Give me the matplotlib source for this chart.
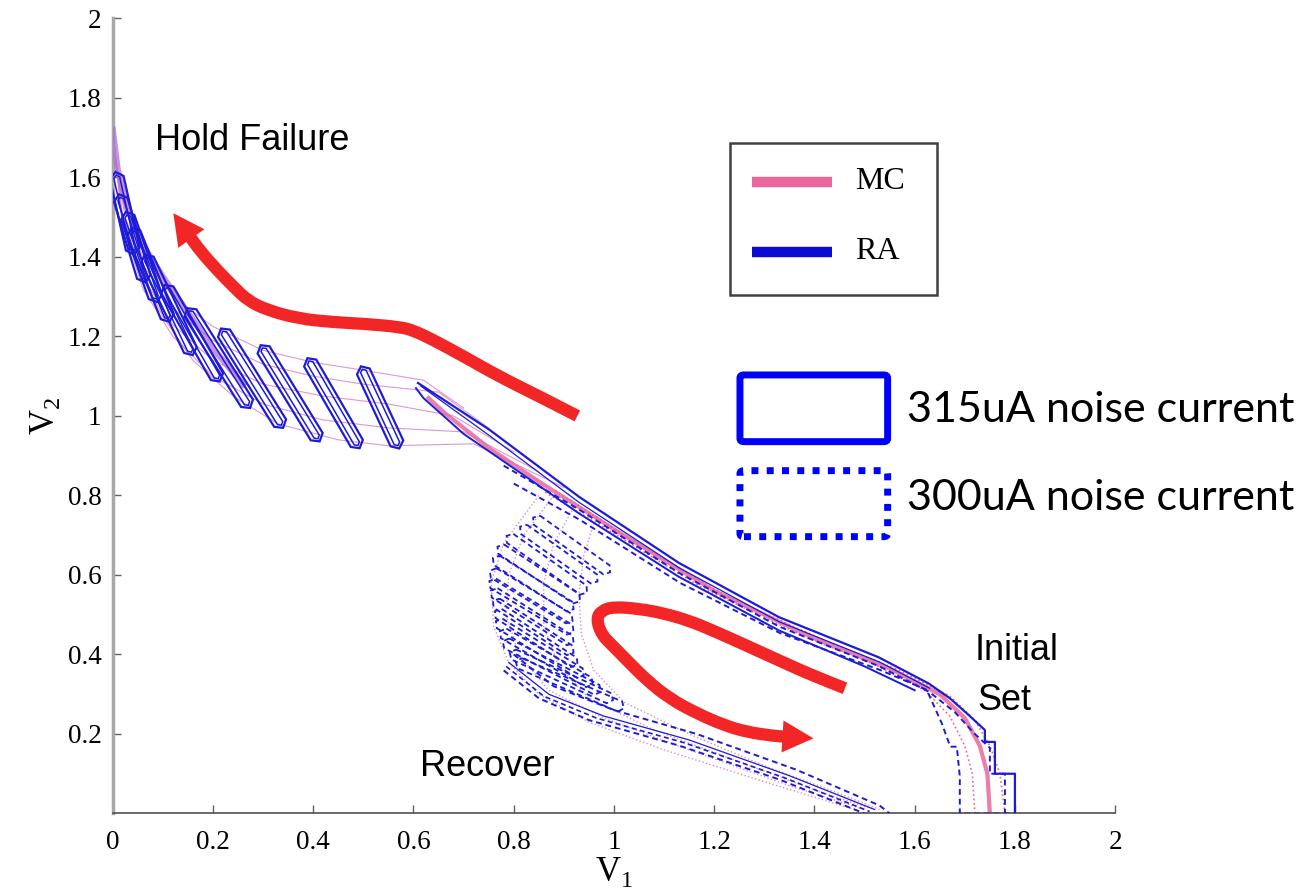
import numpy as np
import matplotlib
matplotlib.use('Agg')
import matplotlib.pyplot as plt
from matplotlib.patches import Polygon, Rectangle, FancyBboxPatch, PathPatch
from matplotlib.path import Path
from matplotlib.lines import Line2D

plt.rcParams['mathtext.fontset'] = 'custom'
plt.rcParams['mathtext.rm'] = 'Liberation Serif'

# ---------------- values ----------------
# x / y ticks
xticks = [0, 0.2, 0.4, 0.6, 0.8, 1, 1.2, 1.4, 1.6, 1.8, 2]
xticklabels = ['0', '0.2', '0.4', '0.6', '0.8', '1', '1.2', '1.4', '1.6', '1.8', '2']
yticks = [0.2, 0.4, 0.6, 0.8, 1, 1.2, 1.4, 1.6, 1.8, 2]
yticklabels = ['0.2', '0.4', '0.6', '0.8', '1', '1.2', '1.4', '1.6', '1.8', '2']

# MC : main trajectory (initial set -> knee)
mc_main_x = [1.75, 1.745, 1.73, 1.70, 1.65, 1.55, 1.40, 1.20, 1.00, 0.85, 0.75, 0.66, 0.63]
mc_main_y = [0.00, 0.10, 0.17, 0.24, 0.30, 0.365, 0.44, 0.56, 0.715, 0.835, 0.92, 1.01, 1.045]
mc_main2_x = [1.78, 1.77, 1.75, 1.72, 1.67, 1.57, 1.42, 1.22, 1.02, 0.88]
mc_main2_y = [0.00, 0.10, 0.17, 0.235, 0.295, 0.36, 0.435, 0.55, 0.70, 0.815]
mc_main3_x = [1.72, 1.715, 1.70, 1.67, 1.62, 1.52, 1.38, 1.18, 0.98, 0.86]
mc_main3_y = [0.00, 0.10, 0.17, 0.245, 0.31, 0.375, 0.445, 0.565, 0.72, 0.81]
# MC : hold failure end (upper left)
mc_hf_x = [0.0, 0.01, 0.03, 0.06, 0.10, 0.15, 0.20, 0.26]
mc_hf_y = [1.72, 1.62, 1.52, 1.43, 1.35, 1.26, 1.17, 1.08]
# MC : hold failure fan (315uA)
hf_fan = [
    ([0.70, 0.62, 0.50, 0.40, 0.30, 0.20, 0.12, 0.06, 0.025, 0.005, 0.0],
     [1.02, 1.09, 1.115, 1.135, 1.165, 1.225, 1.30, 1.40, 1.52, 1.65, 1.72]),
    ([0.75, 0.65, 0.50, 0.40, 0.30, 0.20, 0.12, 0.06, 0.025, 0.005, 0.0],
     [0.97, 1.06, 1.08, 1.10, 1.13, 1.19, 1.27, 1.38, 1.50, 1.64, 1.72]),
    ([0.80, 0.68, 0.55, 0.42, 0.30, 0.20, 0.12, 0.06, 0.02, 0.0],
     [0.91, 1.00, 1.03, 1.05, 1.08, 1.14, 1.23, 1.35, 1.50, 1.72]),
    ([0.85, 0.70, 0.55, 0.42, 0.30, 0.20, 0.12, 0.06, 0.02, 0.0],
     [0.86, 0.96, 0.97, 0.99, 1.03, 1.10, 1.20, 1.32, 1.48, 1.72]),
    ([0.90, 0.72, 0.55, 0.45, 0.33, 0.24, 0.16, 0.10, 0.05, 0.015, 0.0],
     [0.82, 0.93, 0.925, 0.94, 0.98, 1.05, 1.14, 1.25, 1.38, 1.53, 1.72]),
]
# MC : recover fan (300uA)
rc_fan = [
    ([0.96, 0.94, 0.93, 0.935, 0.96, 1.02, 1.15, 1.30, 1.45, 1.53],
     [0.73, 0.65, 0.55, 0.45, 0.36, 0.28, 0.20, 0.12, 0.05, 0.01]),
    ([0.92, 0.88, 0.86, 0.86, 0.89, 0.95, 1.08, 1.25, 1.42, 1.52],
     [0.77, 0.68, 0.58, 0.47, 0.37, 0.29, 0.21, 0.13, 0.05, 0.01]),
    ([0.88, 0.82, 0.79, 0.785, 0.81, 0.87, 0.98, 1.15, 1.35, 1.50],
     [0.80, 0.70, 0.60, 0.50, 0.40, 0.31, 0.24, 0.16, 0.07, 0.01]),
    ([0.85, 0.78, 0.755, 0.76, 0.79, 0.85, 0.95, 1.10, 1.30, 1.48],
     [0.80, 0.68, 0.58, 0.47, 0.38, 0.30, 0.23, 0.16, 0.08, 0.01]),
]

# RA 315uA : reach boxes on the way to hold failure (upper-left end, lower-right end)
hf_box_start = [(0.008, 1.60), (0.016, 1.544), (0.030, 1.50), (0.042, 1.46), (0.069, 1.393),
                (0.109, 1.317), (0.155, 1.259), (0.222, 1.208), (0.301, 1.166),
                (0.394, 1.133), (0.500, 1.112)]
hf_box_end = [(0.040, 1.42), (0.062, 1.35), (0.085, 1.30), (0.109, 1.25), (0.155, 1.166),
              (0.208, 1.099), (0.268, 1.032), (0.334, 0.982), (0.407, 0.948),
              (0.487, 0.931), (0.567, 0.931)]
# RA 315uA : main band edges
ra_up_x = [0.609, 0.752, 0.878, 0.931, 1.13, 1.329, 1.528, 1.628, 1.67, 1.71, 1.74, 1.74, 1.76, 1.76, 1.80, 1.80]
ra_up_y = [1.083, 0.965, 0.846, 0.796, 0.63, 0.494, 0.393, 0.327, 0.29, 0.245, 0.21, 0.18, 0.18, 0.10, 0.10, 0.0]
ra_mid_x = [0.615, 0.75, 0.93, 1.13, 1.33, 1.53, 1.63]
ra_mid_y = [1.075, 0.952, 0.783, 0.618, 0.482, 0.381, 0.315]
ra_lo_x = [0.605, 0.62, 0.70, 0.826, 0.93, 1.13, 1.33, 1.50, 1.60]
ra_lo_y = [1.07, 1.045, 0.955, 0.846, 0.755, 0.595, 0.46, 0.37, 0.31]
# RA 300uA : main band edges
da_up_x = [0.78, 0.93, 1.13, 1.33, 1.53, 1.63, 1.68, 1.72, 1.75, 1.75, 1.78, 1.78]
da_up_y = [0.875, 0.765, 0.605, 0.47, 0.37, 0.305, 0.255, 0.20, 0.165, 0.10, 0.10, 0.0]
da_lo_x = [0.80, 0.933, 1.132, 1.331, 1.531, 1.624, 1.654, 1.671, 1.684, 1.69, 1.69, 1.80, 1.80]
da_lo_y = [0.83, 0.738, 0.58, 0.454, 0.361, 0.311, 0.227, 0.168, 0.168, 0.093, 0.0, 0.0, 0.10]
# RA 300uA : reach boxes of the recover loop
rc_box_start = [(0.846, 0.738), (0.82, 0.715), (0.793, 0.692), (0.775, 0.665), (0.766, 0.637),
                (0.76, 0.605), (0.759, 0.579), (0.762, 0.555), (0.766, 0.529), (0.77, 0.503),
                (0.772, 0.478), (0.78, 0.453), (0.786, 0.428), (0.80, 0.40), (0.812, 0.378)]
rc_box_end = [(0.985, 0.613), (0.96, 0.59), (0.939, 0.562), (0.925, 0.54), (0.912, 0.52),
              (0.91, 0.49), (0.912, 0.462), (0.912, 0.435), (0.912, 0.41), (0.92, 0.38),
              (0.932, 0.353), (0.95, 0.33), (0.966, 0.311), (0.99, 0.29), (1.012, 0.269)]
# RA 300uA : recover band down to the axis
rb_up_x = [0.80, 0.88, 1.00, 1.165, 1.364, 1.53, 1.55]
rb_up_y = [0.40, 0.32, 0.26, 0.20, 0.11, 0.02, 0.0]
rb_mid_x = [0.79, 0.87, 0.98, 1.15, 1.35, 1.52]
rb_mid_y = [0.38, 0.30, 0.245, 0.185, 0.095, 0.01]
rb_mid2_x = [0.785, 0.86, 0.965, 1.14, 1.34, 1.51]
rb_mid2_y = [0.37, 0.295, 0.24, 0.178, 0.09, 0.005]
rb_lo_x = [0.78, 0.85, 0.95, 1.132, 1.331, 1.50]
rb_lo_y = [0.36, 0.29, 0.235, 0.17, 0.085, 0.0]

# red direction arrows
arrow_hf_x = [0.927, 0.85, 0.773, 0.70, 0.64, 0.60, 0.573, 0.50, 0.44, 0.37, 0.307, 0.27, 0.241, 0.21, 0.174, 0.121]
arrow_hf_y = [1.0, 1.05, 1.098, 1.15, 1.191, 1.215, 1.224, 1.232, 1.236, 1.245, 1.267, 1.29, 1.325, 1.365, 1.416, 1.51]
arrow_rc_x = [1.461, 1.40, 1.331, 1.26, 1.198, 1.15, 1.098, 1.05, 0.999, 0.975, 0.965, 0.975, 0.999,
              1.03, 1.065, 1.11, 1.165, 1.22, 1.265, 1.32, 1.398]
arrow_rc_y = [0.315, 0.345, 0.384, 0.425, 0.46, 0.485, 0.504, 0.515, 0.52, 0.51, 0.49, 0.45, 0.42,
              0.38, 0.336, 0.29, 0.252, 0.222, 0.205, 0.195, 0.189]

BLUE = '#1c1cd8'
PINK = '#e8679c'
FAN = '#d77fc4'
RED = '#f22626'

fig = plt.figure(figsize=(13.06, 8.91), dpi=100)
ax = fig.add_axes([0.0863, 0.0870, 0.7676, 0.8923])
ax.set_xlim(0, 2)
ax.set_ylim(0, 2)


def to_px(x, y):
    return ax.transData.transform(np.column_stack([x, y]))


def to_data(pts):
    return ax.transData.inverted().transform(np.asarray(pts))


def reach_box(p0, p1, w, **kw):
    a, b = to_px([p0[0], p1[0]], [p0[1], p1[1]])
    u = (b - a) / np.hypot(*(b - a))
    n = np.array([-u[1], u[0]])
    pts = [a + n * w, b + n * w, b + u * w * 0.8, b - n * w, a - n * w, a - u * w * 0.8]
    ax.add_patch(Polygon(to_data(pts), closed=True, fill=False, **kw))


def red_arrow(xs, ys, lw=8.8, head_len=31, head_w=16):
    pts = to_px(xs, ys)
    tip, prev = pts[-1], pts[-2]
    u = (tip - prev) / np.hypot(*(tip - prev))
    n = np.array([-u[1], u[0]])
    base = tip - u * head_len
    ctrl = to_data(np.vstack([pts[:-1], base + u * 2]))
    # smooth quadratic curve through the read points
    verts = [ctrl[0]]
    codes = [Path.MOVETO]
    for i in range(1, len(ctrl) - 1):
        verts += [ctrl[i], (ctrl[i] + ctrl[i + 1]) / 2]
        codes += [Path.CURVE3, Path.CURVE3]
    verts.append(ctrl[-1])
    codes.append(Path.LINETO)
    ax.add_patch(PathPatch(Path(verts, codes), fill=False, edgecolor=RED, lw=lw,
                           capstyle='butt', joinstyle='round', zorder=6))
    ax.add_patch(Polygon(to_data([tip, base + n * head_w, base - n * head_w]),
                         closed=True, color=RED, lw=0, zorder=6))


# MC trajectories
for xs, ys in hf_fan:
    ax.plot(xs, ys, color=FAN, lw=0.8, alpha=0.8, zorder=2)
for xs, ys in rc_fan:
    ax.plot(xs, ys, color=FAN, lw=1.0, ls=':', alpha=0.9, zorder=2)
ax.plot(mc_main2_x, mc_main2_y, color=PINK, lw=1.2, ls=':', zorder=2)
ax.plot(mc_main3_x, mc_main3_y, color=PINK, lw=1.2, ls=':', zorder=2)
ax.plot(mc_main_x, mc_main_y, color=PINK, lw=3.0, alpha=0.85, zorder=2)
ax.plot(mc_hf_x, mc_hf_y, color='#b070d8', lw=4.5, alpha=0.75, zorder=3)

# RA 315uA (solid)
for p0, p1 in zip(hf_box_start, hf_box_end):
    reach_box(p0, p1, 7.0, edgecolor=BLUE, lw=1.6, zorder=4)
    reach_box(p0, p1, 3.0, edgecolor=BLUE, lw=1.1, zorder=4)
ax.plot(ra_up_x, ra_up_y, color=BLUE, lw=1.6, zorder=4)
ax.plot(ra_mid_x, ra_mid_y, color=BLUE, lw=0.9, zorder=4)
ax.plot(ra_lo_x, ra_lo_y, color=BLUE, lw=1.4, zorder=4)

# RA 300uA (dashed)
dash = (0, (3, 2))
ax.plot(da_up_x, da_up_y, color=BLUE, lw=1.4, ls=dash, zorder=4)
ax.plot(da_lo_x, da_lo_y, color=BLUE, lw=1.4, ls=dash, zorder=4)
for p0, p1 in zip(rc_box_start, rc_box_end):
    reach_box(p0, p1, 5.5, edgecolor=BLUE, lw=1.3, ls=dash, zorder=4)
ax.plot(rb_up_x, rb_up_y, color=BLUE, lw=1.4, ls=dash, zorder=4)
ax.plot(rb_mid_x, rb_mid_y, color=BLUE, lw=0.9, zorder=4)
ax.plot(rb_mid2_x, rb_mid2_y, color=BLUE, lw=1.2, ls=dash, zorder=4)
ax.plot(rb_lo_x, rb_lo_y, color=BLUE, lw=1.4, ls=dash, zorder=4)

# red arrows
red_arrow(arrow_hf_x, arrow_hf_y)
red_arrow(arrow_rc_x, arrow_rc_y)

# annotations
sans = 'Liberation Sans'
ax.text(0.084, 1.669, 'Hold Failure', fontsize=26, family=sans, va='baseline')
ax.text(0.614, 0.094, 'Recover', fontsize=26, family=sans, va='baseline')
ax.text(1.72, 0.386, 'Initial', fontsize=26, family=sans, va='baseline')
ax.text(1.725, 0.26, 'Set', fontsize=26, family=sans, va='baseline')

# MC / RA legend
ax.add_patch(Rectangle((0.6157, 0.6522), 0.207, 0.1912, transform=ax.transAxes,
                       fill=False, edgecolor='#404040', lw=1.8, zorder=7))
ax.add_line(Line2D([0.6373, 0.7175], [0.7943, 0.7943], transform=ax.transAxes,
                   color=PINK, lw=7.5, solid_capstyle='butt', zorder=7))
ax.add_line(Line2D([0.6373, 0.7175], [0.7063, 0.7063], transform=ax.transAxes,
                   color='#0a0ad2', lw=7.5, solid_capstyle='butt', zorder=7))
ax.text(0.7405, 0.7943, 'MC', transform=ax.transAxes, fontsize=23,
        family='Liberation Serif', va='center', zorder=7)
ax.text(0.7405, 0.7063, 'RA', transform=ax.transAxes, fontsize=23,
        family='Liberation Serif', va='center', zorder=7)

# noise-current legend
ax.add_patch(FancyBboxPatch((0.6257, 0.4677), 0.1473, 0.0839, transform=ax.transAxes,
                            boxstyle='round,pad=0,rounding_size=0.004', fill=False,
                            edgecolor='#0000ff', lw=5, zorder=7))
ax.add_patch(FancyBboxPatch((0.6257, 0.3482), 0.1473, 0.0830, transform=ax.transAxes,
                            boxstyle='round,pad=0,rounding_size=0.004', fill=False,
                            edgecolor='#0000ff', lw=5, ls=(0, (1, 1.2)), zorder=7))
ax.text(0.7923, 0.5075, '315uA noise current', transform=ax.transAxes, fontsize=31,
        family='Lato', va='center', zorder=7)
ax.text(0.7923, 0.3969, '300uA noise current', transform=ax.transAxes, fontsize=31,
        family='Lato', va='center', zorder=7)

# axes styling
ax.set_xticks(xticks)
ax.set_xticklabels(xticklabels, family='Liberation Serif', fontsize=19.5)
ax.set_yticks(yticks)
ax.set_yticklabels(yticklabels, family='Liberation Serif', fontsize=19.5)
ax.tick_params(direction='in', length=6, width=1, color='#606060', pad=8)
ax.tick_params(axis='x', pad=12)
for s in ['top', 'right']:
    ax.spines[s].set_visible(False)
ax.spines['left'].set_color('#a8a8a8')
ax.spines['left'].set_linewidth(2.5)
ax.spines['bottom'].set_color('#505050')
ax.spines['bottom'].set_linewidth(1.2)
ax.set_xlabel(r'$\mathrm{V}_1$', fontsize=25, labelpad=0)
ax.set_ylabel(r'$\mathrm{V}_2$', fontsize=25, labelpad=4)

fig.savefig('out.png', dpi=100)
